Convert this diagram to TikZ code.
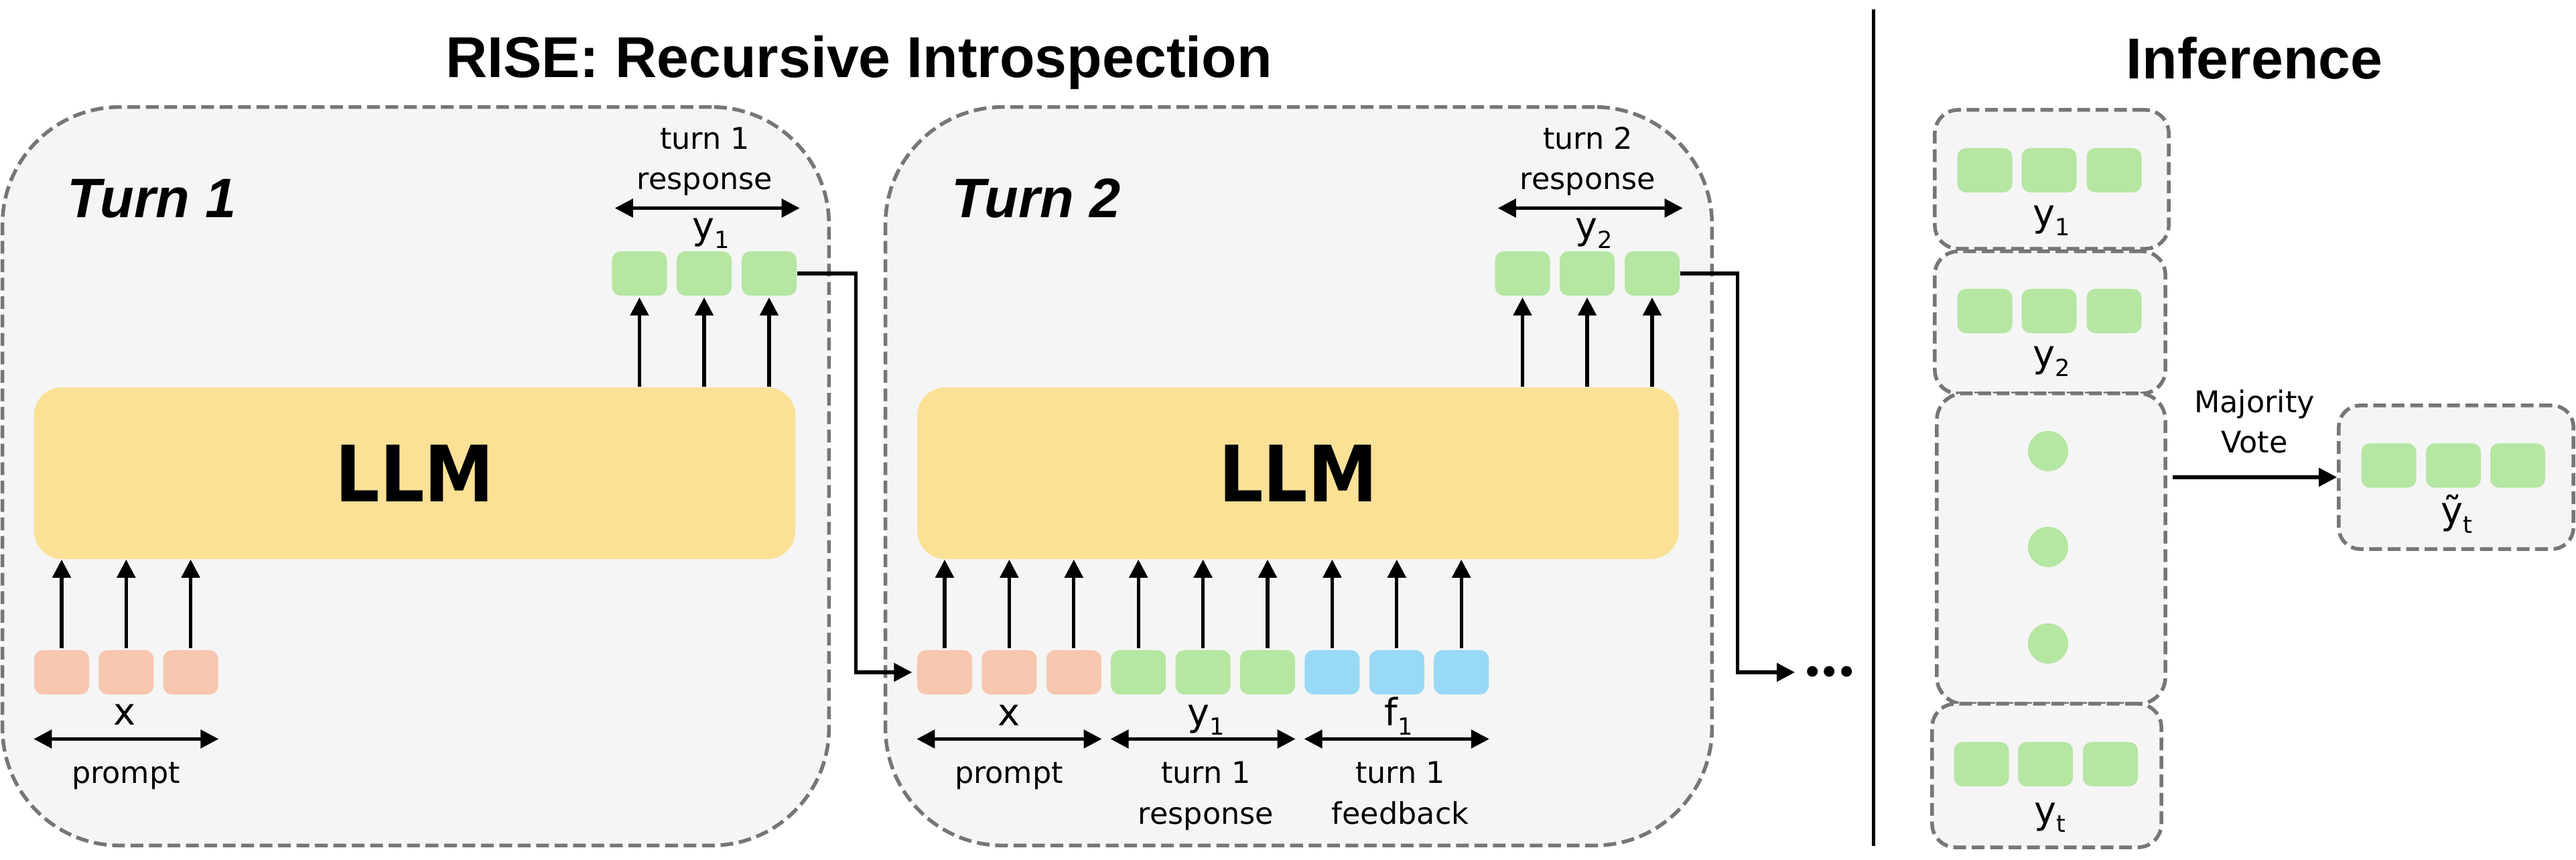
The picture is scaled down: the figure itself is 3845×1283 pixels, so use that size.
\documentclass[tikz,border=0pt]{standalone}
\usepackage{fontspec}
\setmainfont{DejaVu Sans}
\newfontfamily\arialf{Liberation Sans}
\usetikzlibrary{arrows.meta,calc}
\definecolor{boxfill}{HTML}{F5F5F5}
\definecolor{dashgray}{HTML}{767676}
\definecolor{llmyellow}{HTML}{FAE196}
\definecolor{tksalmon}{HTML}{F6C7AE}
\definecolor{tkgreen}{HTML}{B5E6A2}
\definecolor{tkblue}{HTML}{97D9F6}
\newcommand\smallf{\fontsize{12.66pt}{17.07pt}\selectfont}
\newcommand\varlab[2]{{\fontsize{15.9pt}{18pt}\selectfont #1\raisebox{-3.7pt}{\fontsize{10pt}{12pt}\selectfont #2}}}
\begin{document}
\begin{tikzpicture}[x=0.01cm,y=-0.01cm,
  tok/.style={inner sep=0pt, minimum width=0.82cm, minimum height=0.66cm, rounded corners=0.13cm},
  tokS/.style={tok, fill=tksalmon},
  tokG/.style={tok, fill=tkgreen},
  tokB/.style={tok, fill=tkblue},
  dashbox/.style={draw=dashgray, fill=boxfill, line width=0.055cm, dash pattern=on 0.19cm off 0.085cm, inner sep=0pt},
  turnbox/.style={dashbox, rounded corners=1.75cm, minimum width=12.33cm, minimum height=11.01cm},
  infbox/.style={dashbox, rounded corners=0.35cm},
  llmbox/.style={fill=llmyellow, rounded corners=0.42cm, minimum width=11.36cm, minimum height=2.56cm, inner sep=0pt,
    font=\fontsize{33pt}{36pt}\selectfont\bfseries},
  arr/.style={line width=0.053cm, -{Triangle[length=0.27cm,width=0.27cm]}},
  darr/.style={line width=0.053cm, {Triangle[length=0.27cm,width=0.27cm]}-{Triangle[length=0.27cm,width=0.27cm]}},
  lab/.style={font=\smallf, align=center, inner sep=0pt, anchor=base},
  vlab/.style={inner sep=0pt, anchor=base},
  ttl/.style={inner sep=0pt, anchor=base, font=\arialf\fontsize{24.47pt}{28pt}\selectfont\bfseries},
  turnlab/.style={inner sep=0pt, anchor=base west, font=\arialf\fontsize{23.6pt}{27pt}\selectfont\bfseries\itshape},
  dotc/.style={circle, fill=tkgreen, inner sep=0pt, minimum size=0.6cm}
]
\useasboundingbox (0,0) rectangle (3845,1283);

% titles
\node[ttl] (title) at (1282,116) {RISE: Recursive Introspection};
\node[ttl] (inftitle) at (3365,118) {Inference};

% turn boxes
\node[turnbox] (turn1) at (620.5,710.5) {};
\node[turnbox] (turn2) at (1938.5,710.5) {};
\node[turnlab] (turn1lab) at (100,325) {Turn 1};
\node[turnlab] (turn2lab) at (1420,325) {Turn 2};

% LLM blocks
\node[llmbox] (llm1) at (619,706) {\scalebox{0.9}[1]{LLM}};
\node[llmbox] (llm2) at (1937.5,706) {\scalebox{0.9}[1]{LLM}};

% turn 1 tokens
\node[tokS] (a1) at (92,1003) {};
\node[tokS] (a2) at (188.3,1003) {};
\node[tokS] (a3) at (284.6,1003) {};
\node[tokG] (o1) at (954.5,408) {};
\node[tokG] (o2) at (1051,408) {};
\node[tokG] (o3) at (1148,408) {};

% turn 2 tokens
\node[tokS] (b1) at (1410,1003) {};
\node[tokS] (b2) at (1506.4,1003) {};
\node[tokS] (b3) at (1602.8,1003) {};
\node[tokG] (b4) at (1699.2,1003) {};
\node[tokG] (b5) at (1795.6,1003) {};
\node[tokG] (b6) at (1892,1003) {};
\node[tokB] (b7) at (1988.4,1003) {};
\node[tokB] (b8) at (2084.8,1003) {};
\node[tokB] (b9) at (2181.2,1003) {};
\node[tokG] (p1) at (2272.5,408) {};
\node[tokG] (p2) at (2369,408) {};
\node[tokG] (p3) at (2466,408) {};

% arrows into / out of LLMs
\foreach \t in {a1,a2,a3}
  \draw[arr, shorten <=0.02cm] (\t.north) -- (\t.north |- llm1.south);
\foreach \t in {o1,o2,o3}
  \draw[arr, shorten >=0.02cm] (\t.south |- llm1.north) -- (\t.south);
\foreach \t in {b1,b2,b3,b4,b5,b6,b7,b8,b9}
  \draw[arr, shorten <=0.02cm] (\t.north) -- (\t.north |- llm2.south);
\foreach \t in {p1,p2,p3}
  \draw[arr, shorten >=0.02cm] (\t.south |- llm2.north) -- (\t.south);

% span arrows
\draw[darr] ($(o1.west)+(5,-97.5)$) -- ($(o3.east)+(4,-97.5)$);
\draw[darr] ($(p1.west)+(5,-97.5)$) -- ($(p3.east)+(4,-97.5)$);
\draw[darr] ($(a1.west)+(0,99.5)$) -- ($(a3.east)+(0,99.5)$);
\draw[darr] ($(b1.west)+(0,99.5)$) -- ($(b3.east)+(0,99.5)$);
\draw[darr] ($(b4.west)+(0,99.5)$) -- ($(b6.east)+(0,99.5)$);
\draw[darr] ($(b7.west)+(0,99.5)$) -- ($(b9.east)+(0,99.5)$);

% labels turn 1 (multi-line nodes: base = last line)
\node[lab] (l1top) at (1052,283) {turn 1\\response};
\node[vlab] (l1y) at (1061,357) {\varlab{y}{1}};
\node[vlab] (l1x) at (186,1082) {\varlab{x}{}};
\node[lab] (l1prompt) at (188,1169) {prompt};

% labels turn 2
\node[lab] (l2top) at (2370,283) {turn 2\\response};
\node[vlab] (l2y) at (2379,357) {\varlab{y}{2}};
\node[vlab] (l2x) at (1506,1083) {\varlab{x}{}};
\node[vlab] (l2y1) at (1800,1083) {\varlab{y}{1}};
\node[vlab] (l2f1) at (2088,1083) {\varlab{f}{1}};
\node[lab] (l2prompt) at (1506,1169) {prompt};
\node[lab] (l2resp) at (1800,1229) {turn 1\\response};
\node[lab] (l2fb) at (2090,1229) {turn 1\\feedback};

% connectors between turns
\draw[arr, shorten >=0.07cm] (o3.east) -- ++(88,0) |- (b1.west);
\coordinate (dotsin) at (2679,1003);
\draw[arr] (p3.east) -- ++(86,0) |- (dotsin);
\node[inner sep=0pt, font=\fontsize{15.6pt}{18pt}\selectfont] (ellip) at (2731,1008) {•\kern-2pt•\kern-2pt•};

% separator
\coordinate (sepT) at (2796,14);
\coordinate (sepB) at (2796,1262);
\draw[line width=0.05cm] (sepT) -- (sepB);

% inference boxes
\node[infbox, minimum width=3.49cm, minimum height=2.07cm] (ib1) at (3062.5,267.5) {};
\node[infbox, minimum width=3.44cm, minimum height=2.12cm] (ib2) at (3060,481) {};
\node[infbox, rounded corners=0.4cm, minimum width=3.41cm, minimum height=4.63cm] (ib3) at (3061.5,818.5) {};
\node[infbox, minimum width=3.42cm, minimum height=2.14cm] (ib4) at (3055,1157) {};
\node[infbox, rounded corners=0.32cm, minimum width=3.50cm, minimum height=2.14cm] (res) at (3666,712) {};

\node[tokG] (c1) at (2962.5,254) {};
\node[tokG] (c2) at (3058.5,254) {};
\node[tokG] (c3) at (3155.5,254) {};
\node[tokG] (d1) at (2962.5,464) {};
\node[tokG] (d2) at (3058.5,464) {};
\node[tokG] (d3) at (3155.5,464) {};
\node[tokG] (e1) at (2957.5,1140) {};
\node[tokG] (e2) at (3053,1140) {};
\node[tokG] (e3) at (3150,1140) {};
\node[tokG] (r1) at (3565.5,694.5) {};
\node[tokG] (r2) at (3662,694.5) {};
\node[tokG] (r3) at (3758,694.5) {};

\node[dotc] (dot1) at (3057,673) {};
\node[dotc] (dot2) at (3057,816) {};
\node[dotc] (dot3) at (3057,960) {};

\node[vlab] (iy1) at (3062,338) {\varlab{y}{1}};
\node[vlab] (iy2) at (3062,548) {\varlab{y}{2}};
\node[vlab] (iyt) at (3060,1228) {\varlab{y}{t}};
\node[vlab] (ryt) at (3667,782) {\varlab{ỹ}{t}};

\draw[arr, shorten <=0.08cm] (ib3.east |- res.west) -- (res.west);
\node[lab] (mv) at (3365,676) {Majority\\Vote};
\end{tikzpicture}
\end{document}
